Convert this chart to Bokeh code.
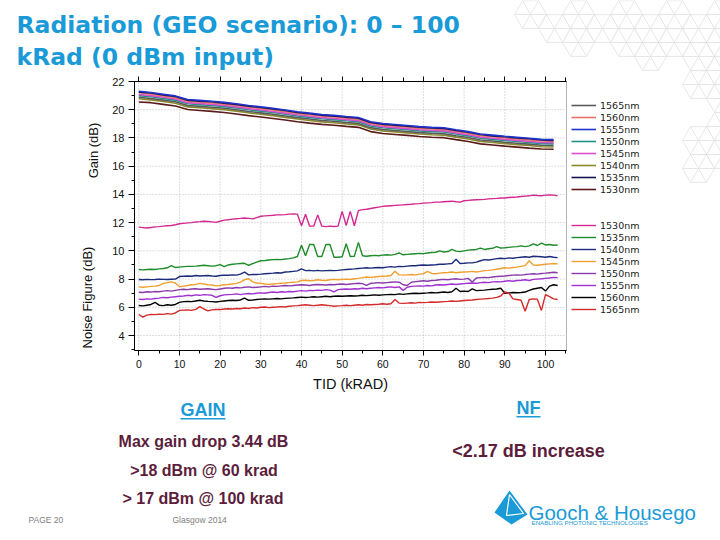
from math import pi, cos, sin
from bokeh.plotting import figure
from bokeh.models import (Range1d, LinearAxis, SingleIntervalTicker, Label, BoxAnnotation,
                          Legend, LegendItem, PolyAnnotation)
from bokeh.embed import file_html
from bokeh.resources import INLINE

# ---------------- texts ----------------
title_line_1 = "Radiation (GEO scenario): 0 \u2013 100"
title_line_2 = "kRad (0 dBm input)"
x_title = "TID (kRAD)"
gain_title = "Gain (dB)"
nf_title = "Noise Figure (dB)"
gain_legend_order = ["1565nm", "1560nm", "1555nm", "1550nm", "1545nm", "1540nm", "1535nm", "1530nm"]
nf_legend_order = ["1530nm", "1535nm", "1540nm", "1545nm", "1550nm", "1555nm", "1560nm", "1565nm"]
x_ticks = [0, 10, 20, 30, 40, 50, 60, 70, 80, 90, 100]
y_ticks = [4, 6, 8, 10, 12, 14, 16, 18, 20, 22]

# ---------------- data: gain (dB) ----------------
tid_gain = list(range(0, 103, 3))  # kRad sample positions
gain_1555 = [21.31, 21.22, 21.10, 20.98, 20.72, 20.66, 20.60, 20.52, 20.42, 20.30, 20.20, 20.10, 19.98, 19.86, 19.76, 19.66, 19.60, 19.52, 19.45, 19.15, 19.02, 18.95, 18.88, 18.80, 18.75, 18.72, 18.58, 18.45, 18.28, 18.20, 18.12, 18.05, 17.98, 17.90, 17.88]
gain_1535 = [21.25, 21.18, 21.05, 20.94, 20.68, 20.60, 20.56, 20.46, 20.38, 20.25, 20.16, 20.05, 19.94, 19.80, 19.72, 19.62, 19.55, 19.47, 19.40, 19.10, 18.98, 18.90, 18.84, 18.76, 18.70, 18.68, 18.53, 18.40, 18.24, 18.15, 18.08, 18.00, 17.94, 17.86, 17.82]
gain_1560 = [21.22, 21.10, 20.98, 20.85, 20.60, 20.54, 20.48, 20.40, 20.30, 20.18, 20.08, 19.98, 19.86, 19.74, 19.64, 19.55, 19.48, 19.40, 19.33, 19.03, 18.90, 18.83, 18.76, 18.68, 18.63, 18.60, 18.46, 18.33, 18.16, 18.08, 18.00, 17.93, 17.86, 17.78, 17.75]
gain_1545 = [21.08, 21.00, 20.88, 20.76, 20.50, 20.44, 20.38, 20.30, 20.20, 20.08, 19.98, 19.88, 19.76, 19.64, 19.54, 19.44, 19.38, 19.30, 19.23, 18.93, 18.80, 18.73, 18.66, 18.58, 18.53, 18.50, 18.36, 18.23, 18.06, 17.98, 17.90, 17.83, 17.76, 17.68, 17.66]
gain_1550 = [21.00, 20.92, 20.80, 20.68, 20.42, 20.36, 20.30, 20.22, 20.12, 20.00, 19.90, 19.80, 19.68, 19.56, 19.46, 19.36, 19.30, 19.22, 19.15, 18.85, 18.72, 18.65, 18.58, 18.50, 18.45, 18.42, 18.28, 18.15, 17.98, 17.90, 17.82, 17.75, 17.68, 17.60, 17.58]
gain_1565 = [20.88, 20.80, 20.68, 20.56, 20.30, 20.24, 20.18, 20.10, 20.00, 19.88, 19.78, 19.68, 19.56, 19.44, 19.34, 19.24, 19.18, 19.10, 19.03, 18.73, 18.60, 18.53, 18.46, 18.38, 18.33, 18.30, 18.16, 18.03, 17.86, 17.78, 17.70, 17.63, 17.56, 17.48, 17.46]
gain_1540 = [20.78, 20.70, 20.58, 20.46, 20.20, 20.14, 20.08, 20.00, 19.90, 19.78, 19.68, 19.58, 19.46, 19.34, 19.24, 19.14, 19.08, 19.00, 18.93, 18.63, 18.50, 18.43, 18.36, 18.28, 18.23, 18.20, 18.06, 17.93, 17.76, 17.68, 17.60, 17.53, 17.46, 17.38, 17.36]
gain_1530 = [20.55, 20.50, 20.38, 20.26, 20.02, 19.95, 19.88, 19.80, 19.70, 19.58, 19.48, 19.38, 19.27, 19.15, 19.05, 18.96, 18.90, 18.82, 18.75, 18.45, 18.32, 18.25, 18.18, 18.10, 18.05, 18.02, 17.88, 17.75, 17.58, 17.50, 17.42, 17.35, 17.28, 17.22, 17.20]

# ---------------- data: noise figure (dB) ----------------
tid_nf = list(range(0, 104))  # kRad sample positions
nf_1530 = [11.68, 11.65, 11.62, 11.66, 11.70, 11.72, 11.75, 11.78, 11.80, 11.85,
           11.92, 11.95, 11.98, 12.00, 12.05, 12.07, 12.10, 12.08, 12.05, 12.02,
           12.10, 12.18, 12.20, 12.25, 12.28, 12.30, 12.33, 12.30, 12.27, 12.35,
           12.45, 12.48, 12.50, 12.52, 12.55, 12.55, 12.57, 12.60, 12.62, 12.60,
           11.78, 12.60, 11.75, 11.75, 12.55, 11.75, 11.72, 11.75, 11.73, 11.75,
           12.80, 11.80, 12.80, 11.78, 12.85, 12.92, 12.95, 13.00, 13.05, 13.10,
           13.15, 13.18, 13.20, 13.22, 13.24, 13.26, 13.28, 13.30, 13.33, 13.35,
           13.38, 13.40, 13.42, 13.45, 13.45, 13.48, 13.50, 13.52, 13.48, 13.45,
           13.55, 13.58, 13.60, 13.62, 13.63, 13.65, 13.68, 13.70, 13.72, 13.75,
           13.75, 13.78, 13.80, 13.82, 13.85, 13.88, 13.90, 13.95, 13.92, 13.90,
           13.95, 13.97, 13.95, 13.90]
nf_1535 = [8.68, 8.65, 8.68, 8.70, 8.68, 8.72, 8.75, 8.80, 8.95, 8.82,
           8.85, 8.88, 8.90, 8.90, 8.92, 8.95, 8.98, 8.95, 8.92, 8.95,
           9.02, 8.88, 9.00, 9.05, 9.08, 9.10, 9.12, 8.98, 9.10, 9.20,
           9.30, 9.32, 9.35, 9.38, 9.40, 9.38, 9.42, 9.45, 9.50, 9.60,
           10.40, 9.65, 10.45, 10.45, 9.60, 9.60, 10.45, 10.45, 9.55, 9.55,
           9.58, 10.50, 9.60, 9.62, 10.60, 9.65, 9.62, 9.65, 9.68, 9.65,
           9.70, 9.72, 9.70, 9.75, 9.85, 9.72, 9.75, 9.78, 9.80, 9.82,
           9.80, 9.85, 9.88, 9.90, 10.00, 9.92, 9.95, 10.10, 9.98, 9.95,
           10.00, 10.05, 10.08, 10.10, 10.20, 10.10, 10.15, 10.18, 10.30, 10.20,
           10.22, 10.25, 10.28, 10.30, 10.35, 10.30, 10.35, 10.50, 10.38, 10.55,
           10.42, 10.45, 10.40, 10.42]
nf_1540 = [7.97, 7.95, 7.98, 7.96, 7.97, 8.00, 7.98, 7.97, 7.99, 8.00,
           8.18, 8.20, 8.22, 8.20, 8.25, 8.22, 8.24, 8.25, 8.22, 8.20,
           8.25, 8.28, 8.27, 8.30, 8.28, 8.35, 8.50, 8.30, 8.32, 8.33,
           8.35, 8.38, 8.40, 8.42, 8.45, 8.43, 8.50, 8.52, 8.55, 8.58,
           8.72, 8.60, 8.62, 8.58, 8.62, 8.58, 8.60, 8.62, 8.60, 8.62,
           8.65, 8.68, 8.70, 8.72, 8.75, 8.78, 8.80, 8.78, 8.80, 8.82,
           8.80, 8.85, 8.88, 8.85, 8.90, 8.88, 8.92, 8.95, 8.95, 8.98,
           9.00, 8.98, 9.00, 9.02, 9.05, 9.05, 9.08, 9.10, 9.40, 9.10,
           9.12, 9.15, 9.15, 9.20, 9.30, 9.38, 9.35, 9.40, 9.45, 9.48,
           9.45, 9.50, 9.48, 9.52, 9.55, 9.58, 9.55, 9.62, 9.60, 9.58,
           9.55, 9.60, 9.55, 9.52]
nf_1545 = [7.45, 7.42, 7.45, 7.48, 7.50, 7.55, 7.70, 7.75, 7.80, 7.72,
           7.45, 7.50, 7.55, 7.60, 7.62, 7.70, 7.65, 7.60, 7.58, 7.52,
           7.55, 7.60, 7.62, 7.65, 7.70, 7.78, 7.95, 8.02, 7.80, 7.72,
           7.70, 7.65, 7.62, 7.65, 7.68, 7.70, 7.72, 7.75, 7.78, 7.80,
           7.90, 7.92, 7.88, 7.90, 7.95, 7.92, 7.90, 7.95, 7.98, 7.95,
           7.98, 8.00, 7.97, 8.02, 8.05, 8.10, 8.15, 8.12, 8.15, 8.18,
           8.20, 8.22, 8.25, 8.55, 8.30, 8.28, 8.30, 8.32, 8.30, 8.35,
           8.38, 8.55, 8.40, 8.38, 8.42, 8.45, 8.47, 8.50, 8.45, 8.48,
           8.50, 8.52, 8.55, 8.50, 8.55, 8.60, 8.62, 8.65, 8.70, 8.75,
           8.80, 8.78, 8.82, 8.85, 8.90, 8.95, 9.30, 9.00, 8.98, 9.02,
           9.05, 9.08, 9.10, 9.08]
nf_1550 = [7.07, 7.05, 7.10, 7.08, 7.12, 7.10, 7.15, 7.18, 7.15, 7.20,
           7.25, 7.28, 7.25, 7.30, 7.32, 7.28, 7.30, 7.32, 7.28, 7.25,
           7.30, 7.35, 7.38, 7.35, 7.40, 7.38, 7.42, 7.45, 7.40, 7.42,
           7.45, 7.48, 7.45, 7.50, 7.48, 7.52, 7.55, 7.52, 7.55, 7.58,
           7.60, 7.58, 7.55, 7.60, 7.62, 7.60, 7.58, 7.62, 7.60, 7.63,
           7.65, 7.62, 7.65, 7.68, 7.70, 7.68, 7.55, 7.70, 7.72, 7.75,
           7.72, 7.75, 7.78, 7.80, 7.78, 7.60, 7.55, 7.78, 7.82, 7.85,
           7.88, 7.85, 7.90, 7.92, 7.95, 7.98, 7.95, 8.00, 8.02, 7.98,
           8.00, 8.05, 7.80, 8.08, 8.10, 8.12, 8.10, 8.15, 8.18, 8.20,
           8.22, 8.25, 8.28, 8.30, 8.28, 8.32, 8.35, 8.38, 8.35, 8.40,
           8.42, 8.45, 8.48, 8.45]
nf_1555 = [6.58, 6.55, 6.60, 6.58, 6.62, 6.65, 6.70, 6.68, 6.72, 6.75,
           6.78, 6.80, 6.85, 6.82, 6.88, 6.85, 6.90, 6.88, 6.85, 6.70,
           6.82, 6.88, 6.90, 6.92, 6.95, 6.90, 6.95, 6.98, 6.95, 7.00,
           7.02, 7.00, 7.05, 7.08, 7.05, 7.10, 7.08, 7.12, 7.10, 7.15,
           7.18, 7.15, 7.20, 7.18, 7.22, 7.20, 7.25, 7.22, 7.10, 7.25,
           7.28, 7.30, 7.28, 7.32, 7.30, 7.35, 7.32, 7.35, 7.38, 7.40,
           7.38, 7.42, 7.45, 7.40, 7.45, 7.20, 7.42, 7.48, 7.50, 7.52,
           7.50, 7.55, 7.52, 7.58, 7.60, 7.58, 7.62, 7.65, 7.62, 7.65,
           7.68, 7.70, 7.72, 7.70, 7.75, 7.78, 7.75, 7.80, 7.82, 7.80,
           7.85, 7.88, 7.85, 7.90, 7.92, 7.95, 7.90, 7.98, 8.00, 8.02,
           8.05, 8.08, 8.12, 8.10]
nf_1560 = [6.13, 6.10, 6.15, 6.20, 6.35, 6.15, 6.12, 6.18, 6.15, 6.20,
           6.35, 6.40, 6.42, 6.40, 6.45, 6.50, 6.45, 6.42, 6.40, 6.38,
           6.42, 6.45, 6.48, 6.50, 6.48, 6.52, 6.65, 6.50, 6.52, 6.55,
           6.58, 6.60, 6.58, 6.60, 6.62, 6.60, 6.63, 6.65, 6.67, 6.70,
           6.72, 6.70, 6.72, 6.75, 6.72, 6.75, 6.78, 6.75, 6.78, 6.80,
           6.78, 6.80, 6.82, 6.80, 6.82, 6.85, 6.83, 6.85, 6.88, 6.85,
           6.88, 6.90, 6.92, 6.90, 6.95, 6.92, 6.95, 6.98, 7.00, 6.98,
           7.00, 7.02, 7.05, 7.02, 7.05, 7.08, 7.05, 7.10, 7.35, 7.12,
           7.15, 7.12, 7.30, 7.18, 7.20, 7.22, 7.25, 7.28, 7.30, 7.35,
           7.00, 7.02, 7.05, 7.03, 7.05, 7.08, 7.20, 7.30, 7.35, 7.40,
           7.15, 7.50, 7.60, 7.55]
nf_1565 = [5.49, 5.30, 5.45, 5.50, 5.48, 5.52, 5.50, 5.55, 5.52, 5.60,
           5.78, 5.80, 5.82, 5.78, 5.85, 6.05, 5.88, 5.75, 5.82, 5.85,
           5.84, 5.88, 5.90, 5.88, 5.92, 5.90, 5.95, 5.92, 5.98, 5.95,
           6.00, 6.02, 5.98, 6.00, 6.02, 6.05, 6.02, 6.08, 6.10, 6.12,
           6.15, 6.18, 6.15, 6.12, 6.15, 6.18, 6.15, 6.12, 6.08, 6.10,
           6.12, 6.15, 6.12, 6.15, 6.18, 6.15, 6.20, 6.18, 6.20, 6.22,
           6.25, 6.22, 6.25, 6.55, 6.30, 6.28, 6.30, 6.32, 6.30, 6.35,
           6.33, 6.35, 6.38, 6.36, 6.38, 6.40, 6.42, 6.45, 6.42, 6.45,
           6.48, 6.50, 6.52, 6.55, 6.58, 6.60, 6.62, 6.65, 6.70, 6.80,
           7.10, 7.00, 6.60, 6.55, 6.50, 5.72, 6.55, 6.60, 6.58, 5.78,
           6.90, 6.75, 6.60, 6.55]

gain_series = {"1530nm": gain_1530, "1540nm": gain_1540, "1565nm": gain_1565, "1550nm": gain_1550,
               "1545nm": gain_1545, "1560nm": gain_1560, "1535nm": gain_1535, "1555nm": gain_1555}
nf_series = {"1530nm": nf_1530, "1535nm": nf_1535, "1540nm": nf_1540, "1545nm": nf_1545,
             "1550nm": nf_1550, "1555nm": nf_1555, "1560nm": nf_1560, "1565nm": nf_1565}

gain_colors = {"1565nm": "#5a5a5a", "1560nm": "#e8706a", "1555nm": "#2233cc", "1550nm": "#1f8f8a",
               "1545nm": "#d94fd0", "1540nm": "#8a8a2a", "1535nm": "#151550", "1530nm": "#5c1a1a"}
nf_colors = {"1530nm": "#d3288f", "1535nm": "#1e8c2a", "1540nm": "#1c2a7a", "1545nm": "#f0a030",
             "1550nm": "#8a3aa8", "1555nm": "#a030d0", "1560nm": "#000000", "1565nm": "#d42a2a"}

CYAN = "#1a9ad6"
MAROON = "#5c1e3c"

# ---------------- geometry ----------------
XMIN, XMAX = -1.06, 105.17      # chart box data extent
YMIN, YMAX = 2.94, 22.0
FL, FT, FW, FH = 134, 81, 432, 269  # chart box in page pixels
W, H = 720, 540


def X(px):
    return XMIN + (px - FL) * (XMAX - XMIN) / FW


def Y(py):
    return YMAX - (py - FT) * (YMAX - YMIN) / FH


p = figure(width=W, height=H, x_range=Range1d(X(0), X(W)), y_range=Range1d(Y(H), Y(0)),
           output_backend="svg", toolbar_location=None, tools="", title=None,
           x_axis_type=None, y_axis_type=None, min_border=0,
           background_fill_color="white", border_fill_color="white")
p.outline_line_color = None

xt = SingleIntervalTicker(interval=10, num_minor_ticks=2)
yt = SingleIntervalTicker(interval=2, num_minor_ticks=2)

axis_style = dict(axis_line_color="black", major_tick_line_color="black", minor_tick_line_color="black",
                  major_tick_in=0, minor_tick_in=0, major_label_text_font="Liberation Sans",
                  major_label_text_color="#111111")
xa = LinearAxis(ticker=xt, fixed_location=YMIN, bounds=(XMIN, XMAX), major_tick_out=5, minor_tick_out=3,
                major_label_text_font_size="10.5px", major_label_standoff=4, **axis_style)
ya = LinearAxis(ticker=yt, fixed_location=XMIN, bounds=(YMIN, YMAX), major_tick_out=6, minor_tick_out=3,
                major_label_text_font_size="11px", major_label_standoff=4, **axis_style)
top = LinearAxis(ticker=xt, fixed_location=YMAX, bounds=(XMIN, XMAX), major_tick_out=5, minor_tick_out=4,
                 major_label_text_font_size="0px", major_label_text_color=None,
                 **{k: v for k, v in axis_style.items() if not k.startswith("major_label")})
p.add_layout(xa, "below")
p.add_layout(ya, "left")
p.add_layout(top, "above")

# dotted grid inside the chart box
p.segment(x0=x_ticks, y0=[YMIN] * len(x_ticks), x1=x_ticks, y1=[YMAX] * len(x_ticks),
          line_color="#bdbdbd", line_dash="1 2", line_width=1)
p.segment(x0=[XMIN] * len(y_ticks), y0=y_ticks, x1=[XMAX] * len(y_ticks), y1=y_ticks,
          line_color="#bdbdbd", line_dash="1 2", line_width=1)
p.add_layout(BoxAnnotation(left=XMIN, right=XMAX, bottom=YMIN, top=YMAX, fill_alpha=0,
                           line_color="black", line_width=1))

# ---------------- lines ----------------
gain_r = {}
for name, vals in gain_series.items():
    gain_r[name] = p.line(tid_gain, vals, line_color=gain_colors[name], line_width=1.6)
nf_r = {}
for name, vals in nf_series.items():
    nf_r[name] = p.line(tid_nf, vals, line_color=nf_colors[name], line_width=1.4)

legend_style = dict(border_line_alpha=0, background_fill_alpha=0, padding=0, margin=0, spacing=0,
                    glyph_width=25, glyph_height=12, label_height=12, label_standoff=4,
                    label_text_font="DejaVu Sans", label_text_font_size="9.5px",
                    label_text_color="#222222")
leg1 = Legend(items=[LegendItem(label=n, renderers=[gain_r[n]]) for n in gain_legend_order],
              location=(571, H - 195), **legend_style)
leg2 = Legend(items=[LegendItem(label=n, renderers=[nf_r[n]]) for n in nf_legend_order],
              location=(571, H - 315), **legend_style)
p.add_layout(leg1)
p.add_layout(leg2)


# ---------------- slide texts ----------------
def lab(text, px, py, size, color, font="Liberation Sans", style="normal",
        align="left", baseline="middle", angle=0.0):
    p.add_layout(Label(x=X(px), y=Y(py), text=text, text_font=font, text_font_size=f"{size}px",
                       text_color=color, text_font_style=style, text_align=align,
                       text_baseline=baseline, angle=angle))


def poly(pts, fill=None, line=None, lw=1.0):
    p.add_layout(PolyAnnotation(xs=[X(a) for a, b in pts], ys=[Y(b) for a, b in pts],
                                fill_color=fill, fill_alpha=1 if fill else 0,
                                line_color=line, line_alpha=1 if line else 0, line_width=lw))


# decorative hexagon lattice (top right)
hex_centers = [(530, 14), (554, 28), (578, 14), (602, 28), (626, 14), (650, 28), (674, 14), (698, 28),
               (722, 14), (578, 42), (626, 42), (650, 56), (674, 42), (698, 56), (722, 42),
               (698, 84), (722, 70), (722, 98), (698, 140), (722, 126), (722, 154), (698, 168)]
R = 16
for cx, cy in hex_centers:
    v = [(cx + R * cos(k * pi / 3), cy + R * sin(k * pi / 3)) for k in range(6)]
    poly(v, line="#e4e4e4", lw=0.9)
    for k in range(3):
        poly([v[k], v[k + 3]], line="#e4e4e4", lw=0.9)

lab(title_line_1, 16, 24, 23.5, CYAN, font="DejaVu Sans", style="bold", baseline="alphabetic")
lab(title_line_2, 16, 56, 23.5, CYAN, font="DejaVu Sans", style="bold", baseline="alphabetic")

lab(gain_title, 93, 150, 13, "#111111", align="center", angle=pi / 2)
lab(nf_title, 87, 297, 13, "#111111", align="center", angle=pi / 2)
lab(x_title, 350, 383, 14.5, "#111111", align="center")

lab("GAIN", 202.5, 409, 18, CYAN, style="bold", align="center")
poly([(180, 417.5), (225, 417.5), (225, 419), (180, 419)], fill=CYAN)
lab("NF", 528, 407, 18, CYAN, style="bold", align="center")
poly([(516, 415.5), (540, 415.5), (540, 417), (516, 417)], fill=CYAN)

lab("Max gain drop 3.44 dB", 203, 441, 16, MAROON, style="bold", align="center")
lab(">18 dBm @ 60 krad", 203.5, 470, 16, MAROON, style="bold", align="center")
lab("> 17 dBm @ 100 krad", 202.5, 498, 16, MAROON, style="bold", align="center")
lab("<2.17 dB increase", 528, 450, 18, MAROON, style="bold", align="center")

lab("PAGE 20", 28, 519, 8.5, "#808080")
lab("Glasgow 2014", 172, 519, 8.5, "#808080")

# logo
poly([(509, 490), (527, 514), (511, 524), (494, 512)], fill=CYAN)
poly([(509, 494), (506, 515), (523, 513)], line="white", lw=1.2)
lab("Gooch & Housego", 528, 512, 20.5, CYAN, font="Liberation Sans", baseline="alphabetic")
lab("ENABLING PHOTONIC TECHNOLOGIES", 531, 522, 6.2, CYAN)

open("out.html", "w").write(file_html(p, INLINE))
